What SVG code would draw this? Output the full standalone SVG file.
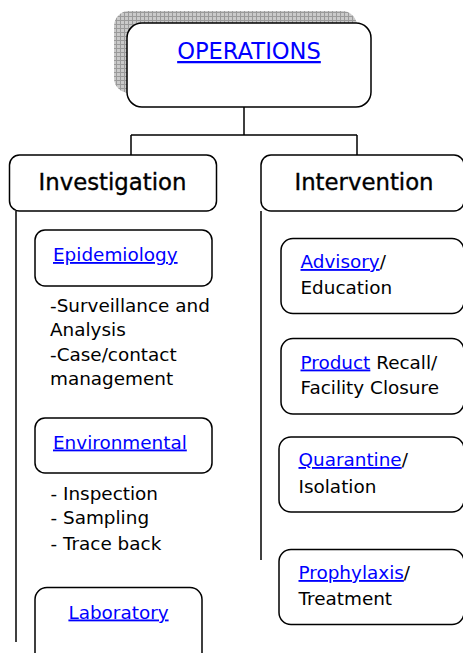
<svg xmlns="http://www.w3.org/2000/svg" width="463" height="653" viewBox="0 0 463 653">
<defs>
<pattern id="grid" width="4" height="4" patternUnits="userSpaceOnUse">
<rect width="4" height="4" fill="#cacaca"/>
<path d="M0 0.5H4M0.5 0V4" stroke="#9a9a9a" stroke-width="1" fill="none"/>
</pattern>
<style>
.box{fill:#fff;stroke:#000;stroke-width:1.5}
.ln{stroke:#000;stroke-width:1.5;fill:none}
text{font-family:"DejaVu Sans","Verdana",sans-serif;fill:#000}
.t18{font-size:18.4px}
.hd{font-size:22.8px;stroke:#000;stroke-width:0.35px}
.lk{fill:#0000ff;text-decoration:underline}
</style>
</defs>
<rect width="463" height="653" fill="#fff"/>
<g id="connectors">
<path class="ln" d="M244 107V135M131 135H357M131 135V155M357 135V155"/>
<path class="ln" d="M16 211V642"/>
<path class="ln" d="M261 211V560"/>
</g>
<g id="operations">
<rect x="114" y="11" width="243" height="82" rx="15" fill="url(#grid)"/>
<rect class="box" x="127" y="23" width="244" height="84" rx="15"/>
<text x="249" y="59" text-anchor="middle" font-size="22.6" class="lk">OPERATIONS</text>
</g>
<g id="investigation">
<rect class="box" x="9.5" y="155" width="207" height="56" rx="10"/>
<text x="112.5" y="190" text-anchor="middle" class="hd">Investigation</text>
</g>
<g id="intervention">
<rect class="box" x="261" y="155" width="203" height="56" rx="10"/>
<text x="364" y="190" text-anchor="middle" class="hd">Intervention</text>
</g>
<g id="epidemiology">
<rect class="box" x="35" y="230" width="177" height="56" rx="10"/>
<text x="53" y="261" class="t18 lk">Epidemiology</text>
</g>
<g id="epi-list">
<text class="t18" x="50" y="312">-Surveillance and</text>
<text class="t18" x="50" y="335.5">Analysis</text>
<text class="t18" x="50" y="361">-Case/contact</text>
<text class="t18" x="50" y="385">management</text>
</g>
<g id="environmental">
<rect class="box" x="35" y="418" width="177" height="55" rx="10"/>
<text x="53" y="448.5" class="t18 lk">Environmental</text>
</g>
<g id="env-list">
<text class="t18" x="50.5" y="500">- Inspection</text>
<text class="t18" x="50.5" y="524">- Sampling</text>
<text class="t18" x="50.5" y="550">- Trace back</text>
</g>
<g id="laboratory">
<rect class="box" x="35" y="587.5" width="167" height="80" rx="12"/>
<text x="118.5" y="618.5" text-anchor="middle" class="t18 lk">Laboratory</text>
</g>
<g id="advisory">
<rect class="box" x="281" y="238.5" width="183" height="75" rx="12"/>
<text class="t18" x="300.5" y="268"><tspan class="lk">Advisory</tspan>/</text>
<text class="t18" x="300.5" y="293.5">Education</text>
</g>
<g id="product">
<rect class="box" x="281" y="338.5" width="183" height="75.5" rx="12"/>
<text class="t18" x="300.5" y="368.5"><tspan class="lk">Product</tspan> Recall/</text>
<text class="t18" x="300.5" y="394">Facility Closure</text>
</g>
<g id="quarantine">
<rect class="box" x="279" y="437" width="185" height="75" rx="12"/>
<text class="t18" x="298.5" y="466"><tspan class="lk">Quarantine</tspan>/</text>
<text class="t18" x="298.5" y="493">Isolation</text>
</g>
<g id="prophylaxis">
<rect class="box" x="279" y="549.5" width="185" height="75" rx="12"/>
<text class="t18" x="298.5" y="579"><tspan class="lk">Prophylaxis</tspan>/</text>
<text class="t18" x="298.5" y="605">Treatment</text>
</g>
</svg>
